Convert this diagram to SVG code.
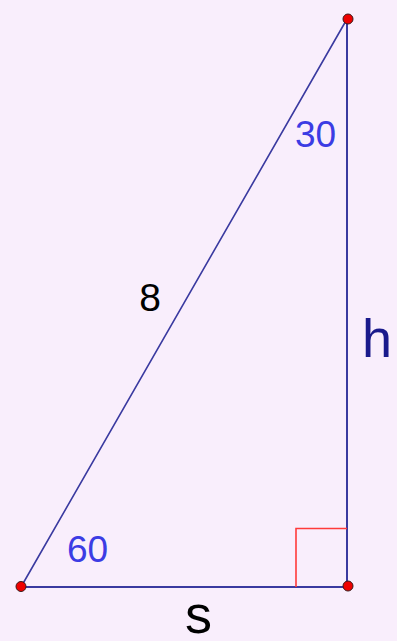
<svg xmlns="http://www.w3.org/2000/svg" width="397" height="641" viewBox="0 0 397 641">
<style>
.edge{stroke:#3a3aa0;stroke-width:2;fill:none;stroke-linecap:round}
.ra{stroke:#ff3a3a;stroke-width:1.6;fill:none}
.pt{fill:#ee0000;stroke:#3a1a1a;stroke-width:1}
.ang{font-family:"Liberation Sans",Arial,sans-serif;fill:#3c3ce4;font-size:37px}
.lbl{font-family:"Liberation Sans",Arial,sans-serif;font-size:39px}
</style>
<rect width="397" height="641" fill="#f9eefc"/>
<g id="connectors">
<line class="edge" x1="21" y1="587" x2="347" y2="19" style="stroke-width:1.6"/>
<line class="edge" x1="347" y1="19" x2="347" y2="587"/>
<line class="edge" x1="21" y1="587" x2="347" y2="587"/>
<polyline class="ra" points="296,587 296,528.5 347,528.5"/>
</g>
<g id="A"><circle class="pt" cx="21" cy="586.5" r="5"/></g>
<g id="B"><circle class="pt" cx="348" cy="586" r="5"/></g>
<g id="C"><circle class="pt" cx="348" cy="19" r="5"/></g>
<text class="ang" x="67" y="561.5">60</text>
<text class="ang" x="295" y="146.5">30</text>
<text class="lbl" x="150" y="311" text-anchor="middle" fill="#000">8</text>
<text class="lbl" x="362" y="357" style="font-size:54px" fill="#1a1a8c">h</text>
<text class="lbl" x="185" y="633" style="font-size:54px" fill="#000">s</text>
</svg>
